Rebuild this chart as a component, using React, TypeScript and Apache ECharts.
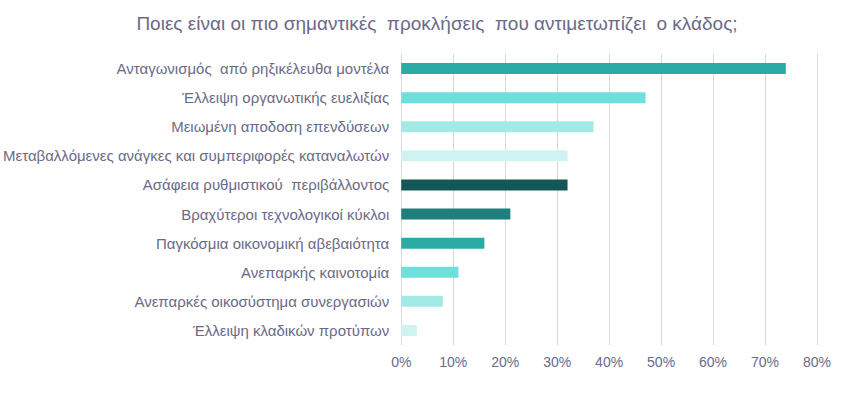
import React, { useEffect, useRef } from "react";
import * as echarts from "echarts";

const categories = [
  "Ανταγωνισμός  από ρηξικέλευθα μοντέλα",
  "Έλλειψη οργανωτικής ευελιξίας",
  "Μειωμένη αποδοση επενδύσεων",
  "Μεταβαλλόμενες ανάγκες και συμπεριφορές καταναλωτών",
  "Ασάφεια ρυθμιστικού  περιβάλλοντος",
  "Βραχύτεροι τεχνολογικοί κύκλοι",
  "Παγκόσμια οικονομική αβεβαιότητα",
  "Ανεπαρκής καινοτομία",
  "Ανεπαρκές οικοσύστημα συνεργασιών",
  "Έλλειψη κλαδικών προτύπων",
];
const values = [74, 47, 37, 32, 32, 21, 16, 11, 8, 3];
const barColors = [
  "#2aaba6",
  "#6fdfdc",
  "#a3e9e6",
  "#cff3f2",
  "#155757",
  "#1e7f7c",
  "#2aaba6",
  "#6fdfdc",
  "#a3e9e6",
  "#cff3f2",
];
const xTicks = [0, 10, 20, 30, 40, 50, 60, 70, 80];
const title = "Ποιες είναι οι πιο σημαντικές  προκλήσεις  που αντιμετωπίζει  ο κλάδος;";

export default function App() {
  const ref = useRef<HTMLDivElement>(null);
  useEffect(() => {
    if (!ref.current) return;
    const chart = echarts.init(ref.current, undefined, { renderer: "svg" });
    const textColor = "#6b6a86";
    chart.setOption({
      animation: false,
      backgroundColor: "#ffffff",
      title: {
        text: title,
        left: 432,
        textAlign: "center",
        top: 9,
        textStyle: {
          fontFamily: "Liberation Sans",
          fontSize: 19,
          fontWeight: "normal",
          color: textColor,
        },
      },
      grid: { left: 400, right: 35, top: 54, height: 291, containLabel: false },
      xAxis: {
        type: "value",
        min: xTicks[0],
        max: xTicks[xTicks.length - 1],
        interval: 10,
        axisLine: { show: false },
        axisTick: { show: false },
        axisLabel: {
          formatter: "{value}%",
          color: textColor,
          fontFamily: "Liberation Sans",
          fontSize: 14,
          margin: 10,
        },
        splitLine: { show: true, lineStyle: { color: "#d9d9d9", width: 1 } },
      },
      yAxis: {
        type: "category",
        inverse: true,
        data: categories,
        axisLine: { show: false },
        axisTick: { show: false },
        axisLabel: {
          color: textColor,
          fontFamily: "Liberation Sans",
          fontSize: 15,
          margin: 12,
        },
      },
      series: [
        {
          type: "bar",
          barWidth: 11,
          data: values.map((v, i) => ({ value: v, itemStyle: { color: barColors[i] } })),
        },
      ],
    });
    return () => chart.dispose();
  }, []);
  return (
    <div
      ref={ref}
      style={{ position: "fixed", left: 0, top: 0, width: 852, height: 395 }}
    />
  );
}
